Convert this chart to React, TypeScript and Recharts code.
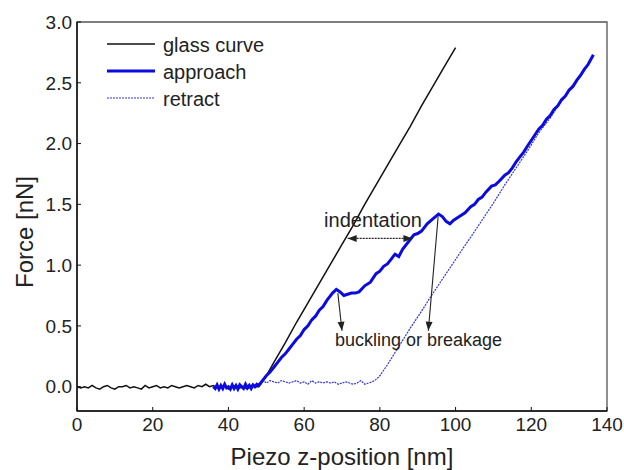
import React from 'react';
import {
  LineChart,
  Line,
  XAxis,
  YAxis,
  ReferenceLine,
  ReferenceArea,
  ReferenceDot,
  Label,
} from 'recharts';

const X_TICKS = [0, 20, 40, 60, 80, 100, 120, 140];
const Y_TICKS = [0, 0.5, 1, 1.5, 2, 2.5, 3];

// glass curve: flat noisy baseline, then straight contact line
const GLASS_X = [
  0, 1, 2, 3, 4, 5, 6, 7, 8, 9, 10, 11, 12, 13, 14, 15, 16, 17, 18, 19, 20, 21, 22, 23, 24,
  25, 26, 27, 28, 29, 30, 31, 32, 33, 34, 35, 36, 37, 38, 39, 40, 41, 42, 43, 44, 45, 46, 47, 48,
  48.5, 50, 52, 55, 58, 61, 64, 67, 70, 73, 76, 79, 82, 85, 88, 91, 94, 97, 100,
];
const GLASS_Y = [
  0.0, -0.01, 0.0, -0.01, 0.01, -0.01, -0.02, 0.0, 0.01, -0.01, -0.02, 0.0, 0.0, 0.01, -0.01,
  0.0, -0.01, -0.02, 0.01, -0.01, 0.0, 0.01, -0.01, 0.0, -0.01, 0.01, 0.0, -0.01, 0.0, 0.01,
  0.0, -0.01, 0.01, 0.0, 0.02, 0.0, 0.01, -0.01, 0.0, 0.01, -0.02, 0.0, 0.01, -0.01, 0.0,
  -0.02, 0.01, 0.0, 0.0,
  0.02, 0.09, 0.2, 0.36, 0.53, 0.69, 0.85, 1.01, 1.17, 1.33, 1.5, 1.66, 1.82, 1.98, 2.14, 2.31,
  2.47, 2.63, 2.79,
];

// approach curve
const APPROACH_X = [
  36, 36.5, 37, 37.5, 38, 38.5, 39, 39.5, 40, 40.5, 41, 41.5, 42, 42.5, 43, 43.5, 44, 44.5, 45,
  45.5, 46, 46.5, 47, 47.5, 48,
  49, 50, 51, 52, 53, 54, 55, 56, 57, 58, 59, 60, 61, 62, 63, 64, 65, 66, 67.5, 68.5, 69.5, 70.5,
  71.5, 72.5, 73.5, 74.5, 76, 77.5, 79, 80, 81, 82, 83, 84, 85, 86, 87.5, 89, 90, 91, 92.5, 94,
  95.5, 96.5, 97.5, 98.5, 99.5, 101, 102.5, 104, 105, 106, 107, 108, 109.5, 110.5, 111.5, 113,
  114, 115, 116, 117, 118, 119, 120.5, 122, 123, 124, 125, 126, 127, 128, 129, 130, 131, 132,
  133, 134, 135, 136.4,
];
const APPROACH_Y = [
  0.0, -0.015, 0.015, -0.02, 0.01, -0.015, 0.02, -0.01, 0.0, -0.02, 0.015, -0.015, 0.01, -0.02,
  0.015, 0.0, -0.015, 0.02, -0.01, 0.01, -0.015, 0.015, 0.0, 0.02, 0.01,
  0.05, 0.09, 0.12, 0.16, 0.2, 0.24, 0.27, 0.31, 0.35, 0.39, 0.42, 0.47, 0.5, 0.55, 0.58, 0.63,
  0.66, 0.71, 0.77, 0.8, 0.78, 0.75, 0.76, 0.77, 0.77, 0.78, 0.83, 0.86, 0.93, 0.95, 0.99, 1.01,
  1.05, 1.09, 1.07, 1.13, 1.19, 1.25, 1.26, 1.28, 1.34, 1.38, 1.42, 1.4, 1.36, 1.34, 1.37, 1.4,
  1.43, 1.48, 1.5, 1.54, 1.56, 1.6, 1.65, 1.66, 1.69, 1.74, 1.76, 1.8, 1.85, 1.89, 1.93, 1.98,
  2.05, 2.12, 2.15, 2.2, 2.23, 2.28, 2.31, 2.36, 2.39, 2.44, 2.47, 2.52, 2.56, 2.61, 2.65, 2.73,
];

// retract curve
const RETRACT_X = [
  48, 49, 50, 51, 52, 53, 54, 55, 56, 57, 58, 59, 60, 61, 62, 63, 64, 65, 66, 67, 68, 69, 70, 71,
  72, 73, 74, 75, 76, 77, 78, 79,
  80, 82, 85, 88, 91, 93, 96, 99, 102, 104, 107, 110, 113, 116, 119, 122, 125, 127.5, 130, 133,
  136.4,
];
const RETRACT_Y = [
  0.02, 0.06, 0.03, 0.05, 0.04, 0.03, 0.05, 0.04, 0.03, 0.04, 0.05, 0.03, 0.04, 0.02, 0.05, 0.03,
  0.04, 0.03, 0.04, 0.03, 0.04, 0.02, 0.03, 0.04, 0.03, 0.02, 0.03, 0.05, 0.02, 0.03, 0.04, 0.06,
  0.09, 0.18, 0.33, 0.48, 0.62, 0.72, 0.86, 1.0, 1.14, 1.23, 1.37, 1.51, 1.66, 1.8, 1.94, 2.09,
  2.21, 2.33, 2.44, 2.57, 2.72,
];

const zip = (xs: number[], ys: number[]) => xs.map((x, i) => ({ x, y: ys[i] }));
const glassData = zip(GLASS_X, GLASS_Y);
const approachData = zip(APPROACH_X, APPROACH_Y);
const retractData = zip(RETRACT_X, RETRACT_Y);

const FONT = '"Liberation Sans", Arial, sans-serif';
const TEXT = '#222';
const BLUE = '#0b0be0';
const BLUE_LIGHT = '#3535d5';

function head(x: number, y: number, dx: number, dy: number) {
  const len = Math.hypot(dx, dy) || 1;
  const ux = dx / len;
  const uy = dy / len;
  const L = 9;
  const W = 3.5;
  const bx = x - ux * L;
  const by = y - uy * L;
  return `${x},${y} ${bx - uy * W},${by + ux * W} ${bx + uy * W},${by - ux * W}`;
}

const arrowShape =
  (dashed: boolean, both: boolean) =>
  (p: any) => {
    const { x1, y1, x2, y2 } = p;
    return (
      <g>
        <line
          x1={x1}
          y1={y1}
          x2={x2}
          y2={y2}
          stroke={TEXT}
          strokeWidth={1.1}
          strokeDasharray={dashed ? '2 1' : undefined}
        />
        <polygon points={head(x2, y2, x2 - x1, y2 - y1)} fill={TEXT} />
        {both && <polygon points={head(x1, y1, x1 - x2, y1 - y2)} fill={TEXT} />}
      </g>
    );
  };

const LegendBox = () => (
  <svg width={200} height={84} style={{ display: 'block' }}>
    <line x1={7} y1={14} x2={55} y2={14} stroke="#111" strokeWidth={1.5} />
    <text x={63} y={21.5} fontSize={20} fill={TEXT} fontFamily={FONT}>
      glass curve
    </text>
    <line x1={7} y1={41} x2={55} y2={41} stroke={BLUE} strokeWidth={3} />
    <text x={63} y={48.5} fontSize={20} fill={TEXT} fontFamily={FONT}>
      approach
    </text>
    <line x1={7} y1={68} x2={55} y2={68} stroke={BLUE_LIGHT} strokeWidth={1.2} strokeDasharray="2 1" />
    <text x={63} y={75.5} fontSize={20} fill={TEXT} fontFamily={FONT}>
      retract
    </text>
  </svg>
);

export default function App() {
  const tick = { fill: TEXT, fontSize: 19, fontFamily: FONT };
  return (
    <div style={{ position: 'absolute', left: 0, top: 0, width: 624, height: 470, background: '#fff' }}>
      <LineChart
        width={624}
        height={470}
        margin={{ top: 22, right: 17, bottom: 0, left: 0 }}
      >
        <XAxis
          type="number"
          dataKey="x"
          domain={[0, 140]}
          ticks={X_TICKS}
          allowDataOverflow
          height={59}
          tick={tick}
          tickSize={-4}
          tickMargin={11}
          axisLine={{ stroke: '#111', strokeWidth: 1.5 }}
          tickLine={{ stroke: '#111' }}
        >
          <Label
            content={() => (
              <text x={342} y={465} textAnchor="middle" fontSize={24} fill={TEXT} fontFamily={FONT}>
                Piezo z-position [nm]
              </text>
            )}
          />
        </XAxis>
        <YAxis
          type="number"
          dataKey="y"
          domain={[-0.2, 3]}
          ticks={Y_TICKS}
          allowDataOverflow
          width={77}
          tick={tick}
          tickFormatter={(v: number) => v.toFixed(1)}
          tickSize={-4}
          tickMargin={9}
          axisLine={{ stroke: '#111', strokeWidth: 1.5 }}
          tickLine={{ stroke: '#111' }}
        >
          <Label
            content={() => (
              <text
                x={33}
                y={232}
                textAnchor="middle"
                fontSize={24}
                fill={TEXT}
                fontFamily={FONT}
                transform="rotate(-90 33 232)"
              >
                Force [nN]
              </text>
            )}
          />
        </YAxis>
        <ReferenceArea
          x1={0}
          x2={140}
          y1={-0.2}
          y2={3}
          fill="none"
          stroke="#555"
          strokeWidth={1.3}
          ifOverflow="visible"
        />
        <Line
          data={retractData}
          dataKey="y"
          stroke={BLUE_LIGHT}
          strokeWidth={1.2}
          strokeDasharray="2 1"
          dot={false}
          isAnimationActive={false}
        />
        <Line
          data={glassData}
          dataKey="y"
          stroke="#111"
          strokeWidth={1.5}
          dot={false}
          isAnimationActive={false}
        />
        <Line
          data={approachData}
          dataKey="y"
          stroke={BLUE}
          strokeWidth={3}
          dot={false}
          isAnimationActive={false}
        />
        <ReferenceLine
          segment={[
            { x: 71.5, y: 1.22 },
            { x: 88.6, y: 1.22 },
          ]}
          ifOverflow="visible"
          shape={arrowShape(true, true)}
        />
        <ReferenceLine
          segment={[
            { x: 68.9, y: 0.77 },
            { x: 70.0, y: 0.46 },
          ]}
          ifOverflow="visible"
          shape={arrowShape(false, false)}
        />
        <ReferenceLine
          segment={[
            { x: 95.4, y: 1.4 },
            { x: 92.8, y: 0.46 },
          ]}
          ifOverflow="visible"
          shape={arrowShape(false, false)}
        />
        <ReferenceDot
          x={78.2}
          y={1.37}
          r={0}
          fill="none"
          stroke="none"
          ifOverflow="visible"
          label={{ value: 'indentation', position: 'center', fontSize: 20, fill: TEXT, fontFamily: FONT }}
        />
        <ReferenceDot
          x={90.2}
          y={0.39}
          r={0}
          fill="none"
          stroke="none"
          ifOverflow="visible"
          label={{
            value: 'buckling or breakage',
            position: 'center',
            fontSize: 18,
            fill: TEXT,
            fontFamily: FONT,
          }}
        />
      </LineChart>
      <div style={{ position: 'absolute', left: 100, top: 30 }}>
        <LegendBox />
      </div>
    </div>
  );
}
